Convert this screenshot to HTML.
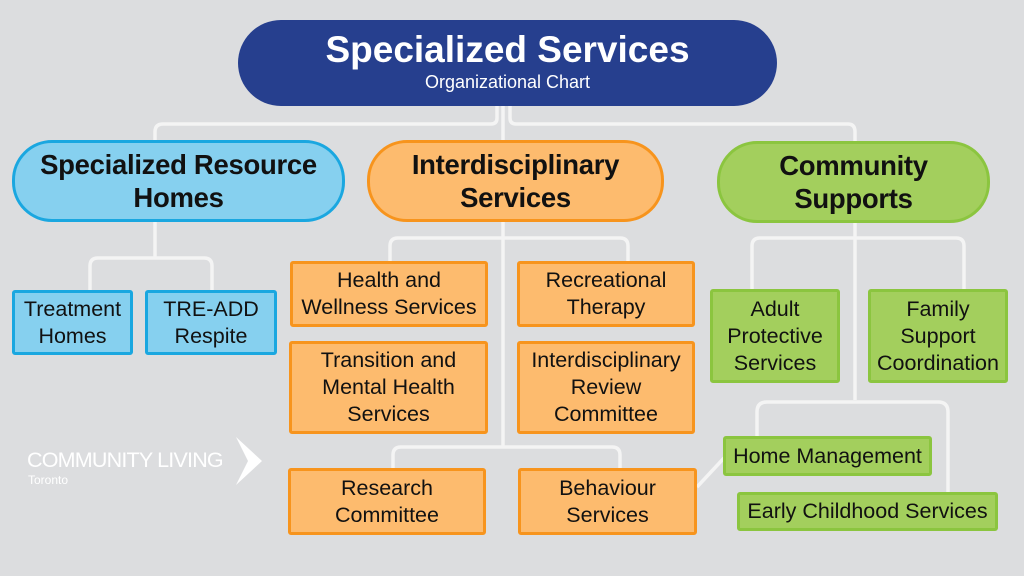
<!DOCTYPE html>
<html><head><style>
body{margin:0;width:1024px;height:576px;background:#dcdddf;position:relative;overflow:hidden;font-family:"Liberation Sans",sans-serif}
.b{position:absolute;box-sizing:border-box;display:flex;align-items:center;justify-content:center;text-align:center;color:#111;font-size:21.5px;line-height:27px;border-radius:3px;white-space:nowrap}
.o{background:#fdbb6e;border:3px solid #f7941d}
.g{background:#a3cf5d;border:3px solid #8bc53f}
.c{background:#86d0ef;border:3px solid #1aa7e0}
.h{font-size:27.5px;font-weight:bold;line-height:33px;border-radius:40px;letter-spacing:-0.3px}
svg{position:absolute;left:0;top:0}
</style></head><body>
<svg width="1024" height="576"><g fill="none" stroke="#f4f4f4" stroke-width="3.5">
<path d="M497 106 V118 Q497 124 491 124 H163 Q155 124 155 132 V142"/>
<path d="M510 106 V118 Q510 124 516 124 H848 Q855 124 855 132 V142"/>
<path d="M503 106 V142"/>
<path d="M155 222 V258 M90 290 V266 Q90 258 98 258 H204 Q212 258 212 266 V290"/>
<path d="M503 222 V448 M390 262 V246 Q390 238 398 238 H620 Q628 238 628 246 V262"/>
<path d="M393 470 V455 Q393 447 401 447 H612 Q620 447 620 455 V470"/>
<path d="M697 487 L724 458"/>
<path d="M855 223 V400 M752 290 V246 Q752 238 760 238 H956 Q964 238 964 246 V290"/>
<path d="M757 437 V412 Q757 402 767 402 H938 Q948 402 948 412 V492"/>
</g>
<g fill="#fff"><polygon points="236,437 262,461 236,485 248,461"/></g></svg>
<div class="b" style="left:238px;top:20px;width:539px;height:86px;background:#263f8e;border-radius:43px;color:#fff;flex-direction:column">
<div style="font-size:37px;font-weight:bold;line-height:42px;margin-top:-4px">Specialized Services</div>
<div style="font-size:18px;line-height:22px">Organizational Chart</div></div>
<div class="b c h" style="left:12px;top:140px;width:333px;height:82px">Specialized Resource<br>Homes</div>
<div class="b o h" style="left:367px;top:140px;width:297px;height:82px">Interdisciplinary<br>Services</div>
<div class="b g h" style="left:717px;top:141px;width:273px;height:82px">Community<br>Supports</div>
<div class="b c" style="left:12px;top:290px;width:121px;height:65px">Treatment<br>Homes</div>
<div class="b c" style="left:145px;top:290px;width:132px;height:65px">TRE-ADD<br>Respite</div>
<div class="b o" style="left:290px;top:261px;width:198px;height:66px">Health and<br>Wellness Services</div>
<div class="b o" style="left:517px;top:261px;width:178px;height:66px">Recreational<br>Therapy</div>
<div class="b o" style="left:289px;top:341px;width:199px;height:93px">Transition and<br>Mental Health<br>Services</div>
<div class="b o" style="left:517px;top:341px;width:178px;height:93px">Interdisciplinary<br>Review<br>Committee</div>
<div class="b o" style="left:288px;top:468px;width:198px;height:67px">Research<br>Committee</div>
<div class="b o" style="left:518px;top:468px;width:179px;height:67px">Behaviour<br>Services</div>
<div class="b g" style="left:710px;top:289px;width:130px;height:94px">Adult<br>Protective<br>Services</div>
<div class="b g" style="left:868px;top:289px;width:140px;height:94px">Family<br>Support<br>Coordination</div>
<div class="b g" style="left:723px;top:436px;width:209px;height:40px">Home Management</div>
<div class="b g" style="left:737px;top:492px;width:261px;height:39px">Early Childhood Services</div>
<div style="position:absolute;left:27px;top:448px;color:#fff;font-size:21.5px;letter-spacing:-0.8px">COMMUNITY LIVING</div>
<div style="position:absolute;left:28px;top:473px;color:#fff;font-size:12px">Toronto</div>
</body></html>
